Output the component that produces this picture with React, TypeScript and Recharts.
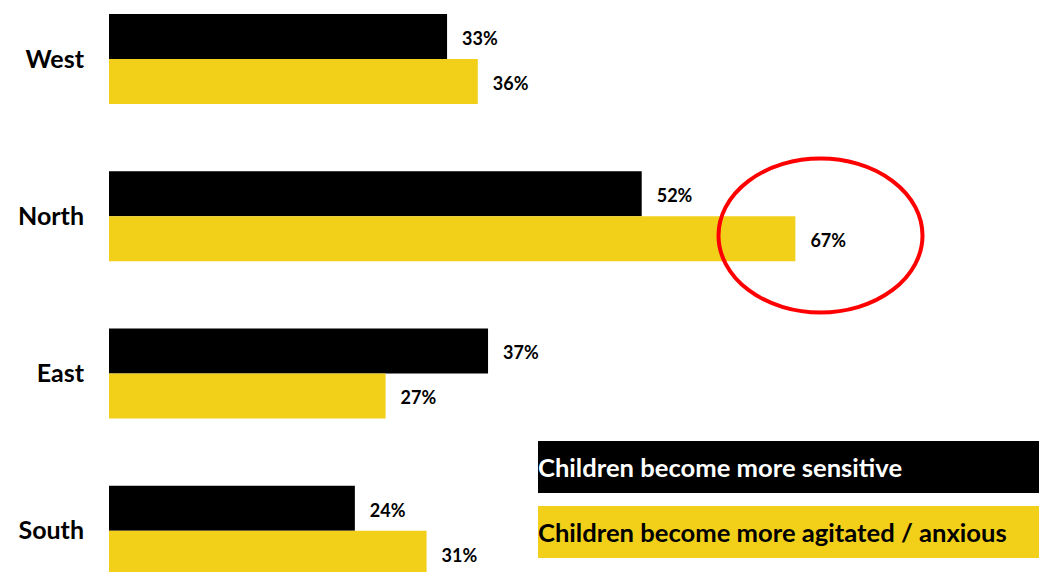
import React from 'react';
import { BarChart, Bar, XAxis, YAxis, LabelList } from 'recharts';

const REGIONS = ['West', 'North', 'East', 'South'];
const SENSITIVE = [33, 52, 37, 24];
const AGITATED = [36, 67, 27, 31];

const SERIES_NAMES = {
  sensitive: 'Children become more sensitive',
  agitated: 'Children become more agitated / anxious',
};

const COLORS = {
  sensitive: '#000000',
  agitated: '#F2D01A',
};

const FONT = 'Lato, "Open Sans", sans-serif';

const data = REGIONS.map((region, i) => ({
  region,
  sensitive: SENSITIVE[i],
  agitated: AGITATED[i],
}));

const pct = (v: any) => `${v}%`;

const labelStyle = { fill: '#000', fontSize: 18, fontWeight: 700, fontFamily: FONT };

export default function App() {
  return (
    <div
      style={{
        position: 'absolute',
        left: 0,
        top: 0,
        width: 1046,
        height: 572,
        overflow: 'hidden',
        background: '#fff',
        fontFamily: FONT,
      }}
    >
      {/* chart is taller than the window so the bands line up with the slide */}
      <div style={{ position: 'absolute', left: 0, top: -20 }}>
        <BarChart
          width={1046}
          height={629}
          data={data}
          layout="vertical"
          margin={{ top: 0, right: 15, left: 0, bottom: 0 }}
          barGap={0}
          barSize={45}
        >
          <XAxis type="number" domain={[0, 90]} hide />
          <YAxis
            type="category"
            dataKey="region"
            width={109}
            axisLine={false}
            tickLine={false}
            tickSize={0}
            tickMargin={25}
            tick={{ fill: '#000', fontSize: 25, fontWeight: 700, fontFamily: FONT }}
          />
          <Bar dataKey="sensitive" name={SERIES_NAMES.sensitive} fill={COLORS.sensitive} isAnimationActive={false}>
            <LabelList dataKey="sensitive" position="right" offset={15} dy={2} formatter={pct} style={labelStyle} />
          </Bar>
          <Bar dataKey="agitated" name={SERIES_NAMES.agitated} fill={COLORS.agitated} isAnimationActive={false}>
            <LabelList dataKey="agitated" position="right" offset={15} dy={2} formatter={pct} style={labelStyle} />
          </Bar>
        </BarChart>
      </div>

      {/* highlight around North */}
      <svg
        width={1046}
        height={572}
        style={{ position: 'absolute', left: 0, top: 0, pointerEvents: 'none' }}
      >
        <ellipse cx={820.5} cy={235.5} rx={102} ry={77} fill="none" stroke="#FF0000" strokeWidth={4} />
      </svg>

      {/* legend */}
      <div
        style={{
          position: 'absolute',
          left: 538,
          top: 441,
          width: 501,
          height: 52,
          background: COLORS.sensitive,
          color: '#fff',
          fontSize: 25.6,
          fontWeight: 700,
          display: 'flex',
          alignItems: 'center',
        }}
      >
        {SERIES_NAMES.sensitive}
      </div>
      <div
        style={{
          position: 'absolute',
          left: 538,
          top: 506,
          width: 501,
          height: 52,
          background: COLORS.agitated,
          color: '#000',
          fontSize: 25.6,
          fontWeight: 700,
          display: 'flex',
          alignItems: 'center',
        }}
      >
        {SERIES_NAMES.agitated}
      </div>
    </div>
  );
}
